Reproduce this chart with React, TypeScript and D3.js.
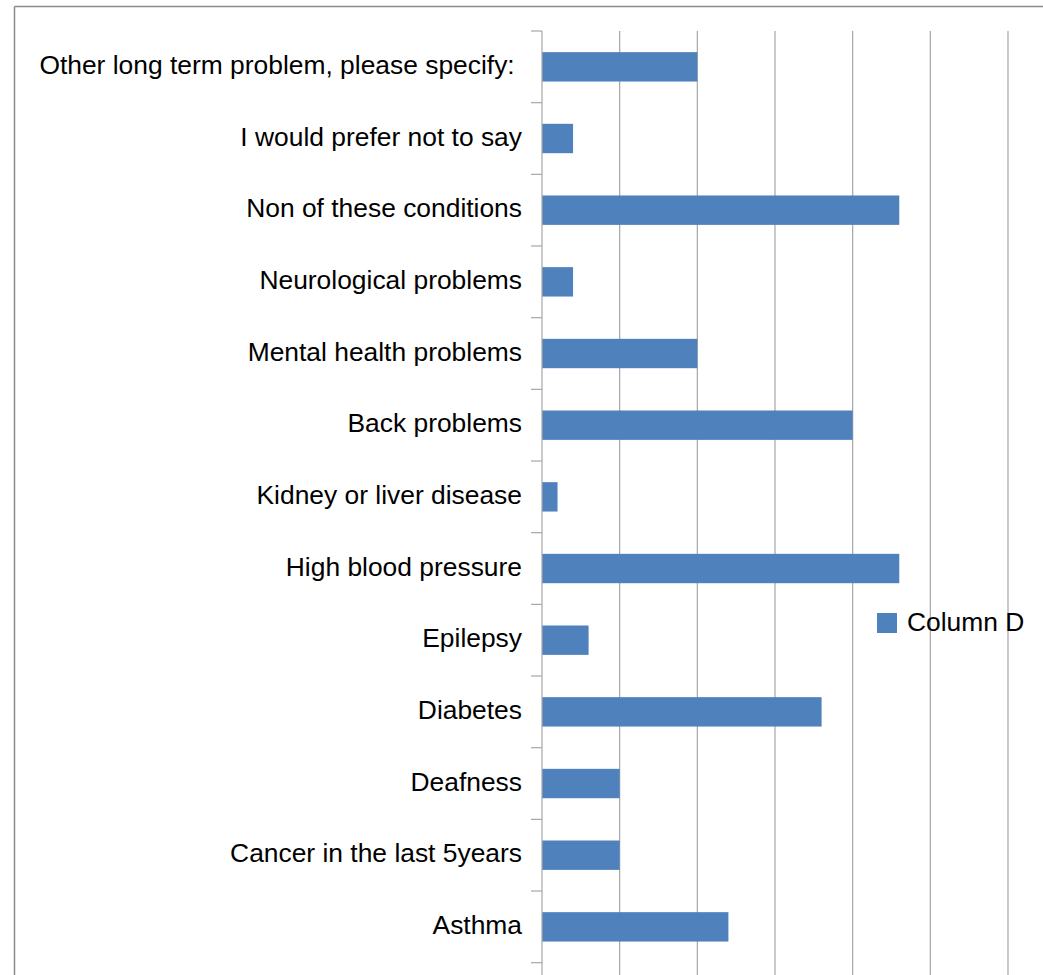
import React from "react";
import * as d3 from "d3";

const categories = [
  "Other long term problem, please specify: ",
  "I would prefer not to say",
  "Non of these conditions",
  "Neurological problems",
  "Mental health problems",
  "Back problems",
  "Kidney or liver disease",
  "High blood pressure",
  "Epilepsy",
  "Diabetes",
  "Deafness",
  "Cancer in the last 5years",
  "Asthma",
];
const values = [10, 2, 23, 2, 10, 20, 1, 23, 3, 18, 5, 5, 12];
const gridTicks = [0, 5, 10, 15, 20, 25, 30];
const seriesName = "Column D";

export default function App() {
  const W = 1043;
  const H = 975;
  const x = d3.scaleLinear().domain([0, 30]).range([542, 1008]);
  const y = d3.scaleBand<string>().domain(categories).range([31, 962.7]).padding(0);
  const step = y.step();
  const barH = step * 0.41;
  const font = "'Liberation Sans', Arial, sans-serif";
  const grid = "#a6a6a6";
  const bars = "#4f81bd";
  const fs = 26.4;
  const boundaries = d3.range(categories.length + 1).map((i) => 31 + i * step);

  return (
    <svg
      width={W}
      height={H}
      style={{ position: "fixed", top: 0, left: 0, background: "#fff" }}
    >
      <rect x={0} y={0} width={W} height={H} fill="#fff" />
      {/* outer border */}
      <line x1={14.5} y1={6.5} x2={W} y2={6.5} stroke="#8c8c8c" strokeWidth={1.5} />
      <line x1={14.5} y1={6.5} x2={14.5} y2={H} stroke="#8c8c8c" strokeWidth={1.5} />

      {/* gridlines */}
      {gridTicks.slice(1).map((t) => (
        <line key={t} x1={x(t)} x2={x(t)} y1={31} y2={H} stroke={grid} strokeWidth={1.2} />
      ))}

      {/* bars */}
      {categories.map((c, i) => (
        <rect
          key={c}
          x={x(0)}
          y={(y(c) as number) + step / 2 - barH / 2}
          width={x(values[i]) - x(0)}
          height={barH}
          fill={bars}
        />
      ))}

      {/* axis */}
      <line x1={x(0)} x2={x(0)} y1={31} y2={H} stroke={grid} strokeWidth={1.2} />
      {boundaries.map((b, i) => (
        <line key={i} x1={x(0) - 11} x2={x(0)} y1={b} y2={b} stroke={grid} strokeWidth={1.2} />
      ))}

      {/* labels */}
      {categories.map((c) => (
        <text
          key={c}
          x={522}
          y={(y(c) as number) + step / 2 - 2}
          dy="0.35em"
          textAnchor="end"
          fontFamily={font}
          fontSize={fs}
          fill="#000"
          style={{ whiteSpace: "pre" }}
        >
          {c}
        </text>
      ))}

      {/* legend */}
      <rect x={877} y={613} width={20} height={20} fill={bars} />
      <text x={907} y={621.5} dy="0.35em" fontFamily={font} fontSize={fs} fill="#000">
        {seriesName}
      </text>
    </svg>
  );
}
